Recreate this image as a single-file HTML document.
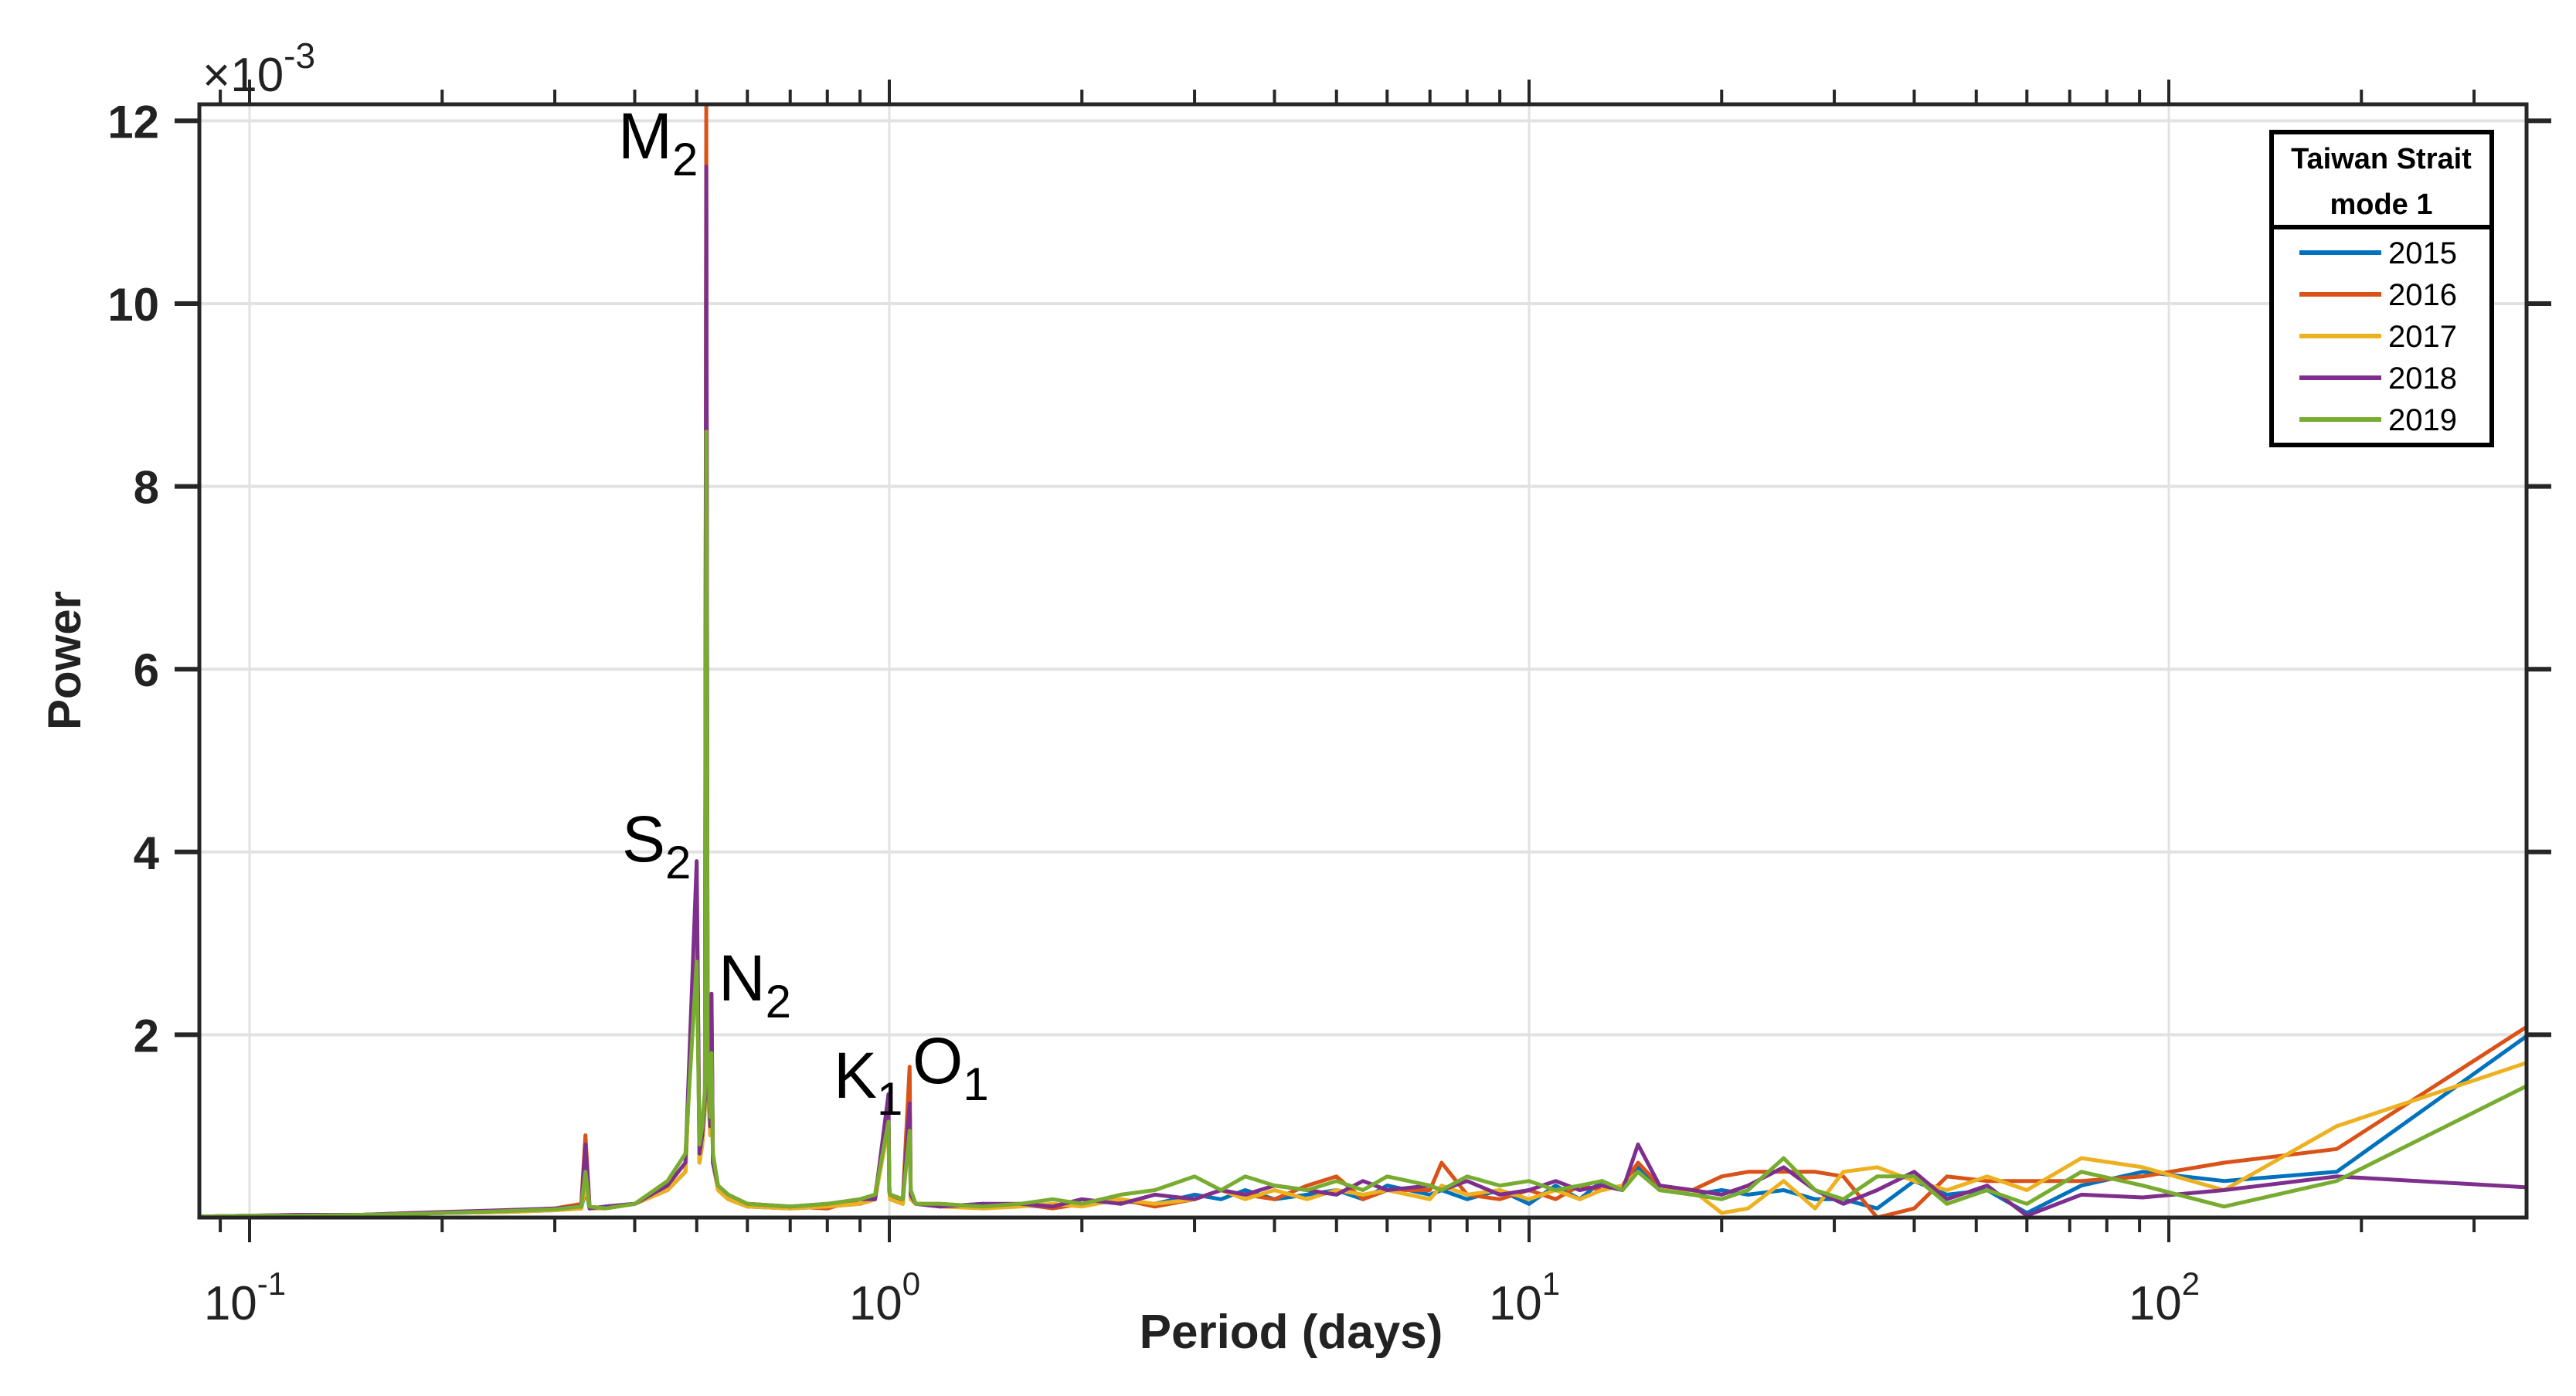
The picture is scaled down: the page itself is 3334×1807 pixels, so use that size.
<!DOCTYPE html>
<html><head><meta charset="utf-8"><style>
html,body{margin:0;padding:0;background:#fff;}
svg{display:block;font-family:"Liberation Sans",Arial,sans-serif;}
</style></head><body>
<svg id="chart" width="3334" height="1807" viewBox="0 0 3334 1807" xmlns="http://www.w3.org/2000/svg">
<defs><clipPath id="plotclip"><rect x="258" y="135" width="3012" height="1441"/></clipPath></defs>
<g id="grid"></g>
<g id="series" clip-path="url(#plotclip)"></g>
<g id="axes"></g>
<g font-size="84" fill="#000">
  <text x="800" y="205">M<tspan font-size="60" dy="22">2</tspan></text>
  <text x="805" y="1115">S<tspan font-size="60" dy="22">2</tspan></text>
  <text x="930" y="1295">N<tspan font-size="60" dy="22">2</tspan></text>
  <text x="1079" y="1421">K<tspan font-size="60" dy="22">1</tspan></text>
  <text x="1181" y="1402">O<tspan font-size="60" dy="22">1</tspan></text>
</g>
<text x="262" y="118" font-size="62" fill="#222">×10<tspan font-size="46" dy="-30">-3</tspan></text>
<text transform="translate(104,855) rotate(-90)" text-anchor="middle" font-size="60" font-weight="bold" fill="#222">Power</text>
<text x="1671" y="1745" text-anchor="middle" font-size="62" font-weight="bold" fill="#222">Period (days)</text>
<g>
  <rect x="2940" y="171" width="285" height="405" fill="#fff" stroke="#000" stroke-width="6"/>
  <line x1="2940" y1="294" x2="3225" y2="294" stroke="#000" stroke-width="6"/>
  <text x="3082" y="218" text-anchor="middle" font-size="38" font-weight="bold">Taiwan Strait</text>
  <text x="3082" y="277" text-anchor="middle" font-size="38" font-weight="bold">mode 1</text>
  <g id="legend-entries"></g>
</g>
</svg>
<script>
const periods = [0.084,0.1,0.12,0.15,0.18,0.2,0.25,0.3,0.33,0.335,0.34,0.36,0.4,0.45,0.48,0.5,0.505,0.51,0.515,0.5175,0.52,0.525,0.5274,0.53,0.54,0.56,0.6,0.7,0.8,0.9,0.95,0.997,1.0,1.003,1.05,1.076,1.08,1.1,1.2,1.4,1.6,1.8,2,2.3,2.6,3,3.3,3.6,4,4.5,5,5.5,6,7,7.3,8,9,10,11,12,13,14,14.8,16,18,20,22,25,28,31,35,40,45,52,60,73,91,122,183,365];
const years = ["2015","2016","2017","2018","2019"];
const colors = ["#0072BD","#D95319","#EDB120","#7E2F8E","#77AC30"];
const power2015 = [0.01,0.02,0.02,0.03,0.04,0.05,0.06,0.08,0.1,0.3, 0.1,0.12,0.15,0.3,0.5,3.5,0.6,0.8,1.2,11.0, 1.5,0.9,2.2,0.6,0.3,0.2,0.12,0.1,0.12,0.15, 0.2,1.1,0.3,0.2,0.15,1.3,0.2,0.15,0.12,0.15, 0.13,0.12,0.15,0.18,0.15,0.25,0.2,0.3,0.2,0.25, 0.3,0.2,0.35,0.25,0.3,0.2,0.3,0.15,0.35,0.2, 0.4,0.3,0.55,0.3,0.25,0.3,0.25,0.3,0.2,0.2, 0.1,0.4,0.25,0.3,0.05,0.35,0.5,0.4,0.5,2.0];
const power2016 = [0.01,0.02,0.03,0.03,0.05,0.05,0.07,0.1,0.15,0.9, 0.12,0.1,0.15,0.3,0.5,3.6,0.7,0.8,1.3,12.2, 1.6,0.9,2.3,0.6,0.3,0.2,0.15,0.12,0.1,0.2, 0.25,1.2,0.3,0.2,0.2,1.65,0.25,0.15,0.15,0.12, 0.15,0.1,0.15,0.2,0.12,0.2,0.3,0.25,0.2,0.35, 0.45,0.2,0.3,0.3,0.6,0.25,0.2,0.3,0.2,0.35, 0.3,0.35,0.6,0.35,0.3,0.45,0.5,0.5,0.5,0.45, 0.0,0.1,0.45,0.4,0.4,0.4,0.45,0.6,0.75,2.1];
const power2017 = [0.01,0.02,0.02,0.03,0.04,0.05,0.06,0.08,0.1,0.35, 0.1,0.1,0.15,0.3,0.5,3.4,0.6,0.8,1.2,10.8, 1.5,0.9,2.1,0.6,0.3,0.2,0.12,0.1,0.12,0.15, 0.2,1.0,0.3,0.2,0.15,1.2,0.2,0.15,0.12,0.1, 0.12,0.15,0.12,0.2,0.15,0.2,0.3,0.2,0.3,0.2, 0.3,0.25,0.3,0.2,0.35,0.25,0.3,0.2,0.3,0.2, 0.3,0.35,0.5,0.3,0.3,0.05,0.1,0.4,0.1,0.5, 0.55,0.4,0.3,0.45,0.3,0.65,0.55,0.3,1.0,1.7];
const power2018 = [0.01,0.02,0.03,0.03,0.05,0.06,0.08,0.1,0.12,0.8, 0.1,0.12,0.15,0.35,0.6,3.9,0.7,0.9,1.3,11.5, 1.7,1.0,2.45,0.6,0.35,0.25,0.15,0.12,0.15,0.2, 0.2,1.35,0.3,0.25,0.2,1.25,0.25,0.15,0.12,0.15, 0.15,0.12,0.2,0.15,0.25,0.2,0.3,0.25,0.35,0.3, 0.25,0.4,0.3,0.35,0.3,0.4,0.25,0.3,0.4,0.3, 0.35,0.3,0.8,0.35,0.3,0.25,0.35,0.55,0.3,0.15, 0.3,0.5,0.2,0.35,0.02,0.25,0.22,0.3,0.45,0.33];
const power2019 = [0.01,0.02,0.02,0.03,0.04,0.05,0.07,0.09,0.12,0.5, 0.12,0.1,0.15,0.4,0.7,2.8,0.8,1.0,1.4,8.6, 1.8,1.1,1.8,0.7,0.35,0.25,0.15,0.12,0.15,0.2, 0.25,1.05,0.35,0.25,0.2,0.95,0.3,0.15,0.15,0.12, 0.15,0.2,0.15,0.25,0.3,0.45,0.3,0.45,0.35,0.3, 0.4,0.3,0.45,0.35,0.3,0.45,0.35,0.4,0.3,0.35, 0.4,0.3,0.5,0.3,0.25,0.2,0.3,0.65,0.3,0.2, 0.45,0.45,0.15,0.3,0.15,0.5,0.35,0.12,0.4,1.45];
const yTicks = [2,4,6,8,10,12];
const xDecades = [-1,0,1,2];

const NS = "http://www.w3.org/2000/svg";
const L = 258, R = 3270, T = 135, B = 1576;
const xMinLog = -1 - (323 - 258) / 828;
const DEC = 828;
function xScale(p) { return L + (Math.log10(p) - xMinLog) * DEC; }
function yScale(v) { return B - v * 118.3; }
function mk(tag, attrs, parent) {
  const e = document.createElementNS(NS, tag);
  for (const k in attrs) e.setAttribute(k, attrs[k]);
  parent.appendChild(e);
  return e;
}
const grid = document.getElementById('grid');
const axes = document.getElementById('axes');
const seriesG = document.getElementById('series');

yTicks.forEach(v => {
  const g = mk('line', {x1: L, x2: R, y1: yScale(v), y2: yScale(v), stroke: '#e2e2e2', 'stroke-width': 4}, grid);
  
  
});
xDecades.forEach(d => {
  const x = xScale(Math.pow(10, d));
  const g = mk('line', {x1: x, x2: x, y1: T, y2: B, stroke: '#e2e2e2', 'stroke-width': 3}, grid);
  
  
});

const allPower = [power2015, power2016, power2017, power2018, power2019];
allPower.forEach((vals, i) => {
  const d = periods.map((p, j) => (j ? 'L' : 'M') + xScale(p).toFixed(1) + ',' + yScale(vals[j]).toFixed(1)).join(' ');
  const path = mk('path', {d: d, fill: 'none', stroke: colors[i], 'stroke-width': 5, 'stroke-linejoin': 'round'}, seriesG);
  
  
});

const box = mk('rect', {x: L, y: T, width: R - L, height: B - T, fill: 'none', stroke: '#262626', 'stroke-width': 5}, axes);



yTicks.forEach(v => {
  const y = yScale(v);
  mk('line', {x1: L - 32, x2: L, y1: y, y2: y, stroke: '#262626', 'stroke-width': 6}, axes);
  mk('line', {x1: R, x2: R + 32, y1: y, y2: y, stroke: '#262626', 'stroke-width': 6}, axes);
  const t = mk('text', {x: 206, y: y + 22, 'text-anchor': 'end', 'font-size': 60, 'font-weight': 'bold', fill: '#222'}, axes);
  t.textContent = String(v);
  
  
});

for (let d = -2; d <= 2; d++) {
  for (let m = 1; m <= 9; m++) {
    const p = m * Math.pow(10, d);
    const x = xScale(p);
    if (x < L - 1 || x > R + 1) continue;
    const len = m === 1 ? 32 : 19;
    mk('line', {x1: x, x2: x, y1: B, y2: B + len, stroke: '#262626', 'stroke-width': 4}, axes);
    mk('line', {x1: x, x2: x, y1: T, y2: T - len, stroke: '#262626', 'stroke-width': 4}, axes);
  }
}
xDecades.forEach(d => {
  const x = xScale(Math.pow(10, d));
  const t = mk('text', {x: x - 6, y: 1708, 'text-anchor': 'middle', 'font-size': 62, fill: '#222'}, axes);
  t.textContent = '10';
  const s = mk('tspan', {'font-size': 42, dy: -32}, t);
  s.textContent = String(d);
  
  
});

const le = document.getElementById('legend-entries');
years.forEach((yr, i) => {
  const y = 327 + i * 54;
  const ln = mk('line', {x1: 2976, x2: 3082, y1: y, y2: y, stroke: colors[i], 'stroke-width': 6}, le);
  
  
  const t = mk('text', {x: 3091, y: y + 14, 'font-size': 40, fill: '#000'}, le);
  t.textContent = yr;
  
  
});
</script>
</body></html>
